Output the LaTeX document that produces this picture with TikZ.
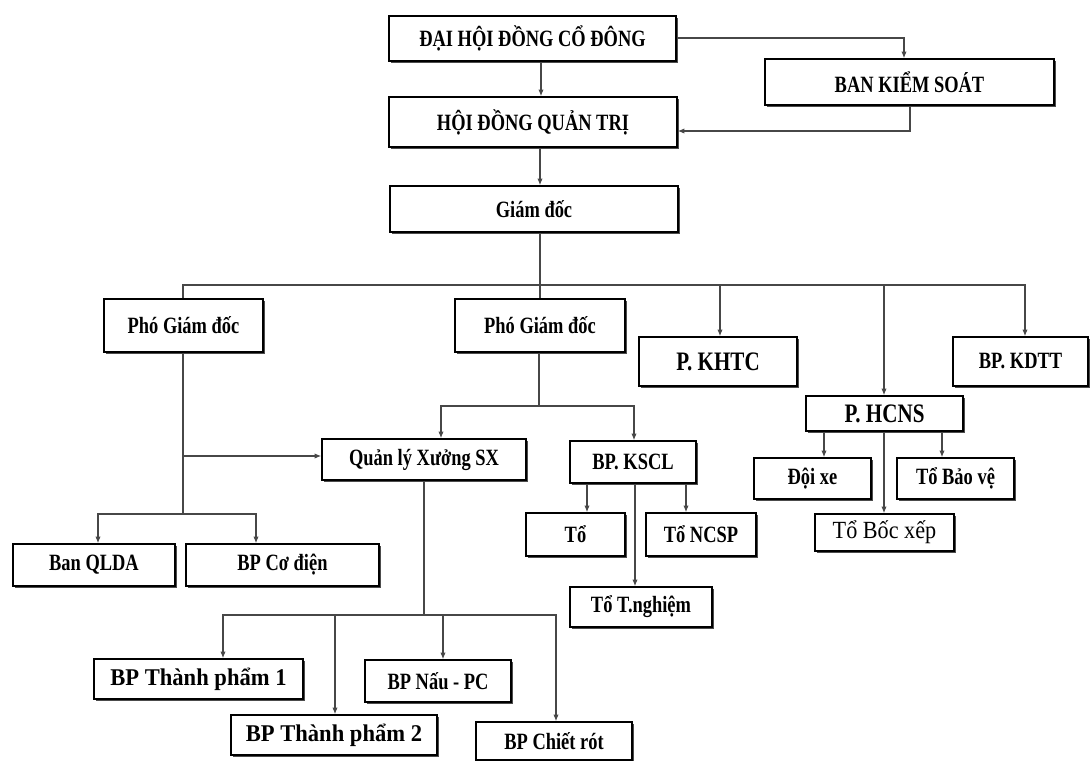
\documentclass[tikz,border=0pt]{standalone}
\usepackage{fontspec}
\setmainfont{Liberation Serif}
\newfontfamily\cnd[FakeStretch=0.79]{Liberation Serif}
\newfontfamily\wid[FakeStretch=0.94]{Liberation Serif}
\newfontfamily\rgl[FakeStretch=0.90]{Liberation Serif}
\usetikzlibrary{arrows.meta,shadows}
\tikzset{
  box/.style={draw=black, line width=1.1pt, fill=white, inner sep=0pt,
    font=\cnd\bfseries\fontsize{17.5}{19}\selectfont,
    drop shadow={shadow xshift=1.3pt, shadow yshift=-1.3pt, fill=black!70, opacity=1}},
  bigtxt/.style={font=\cnd\bfseries\fontsize{20}{22}\selectfont},
  widetxt/.style={font=\wid\bfseries\fontsize{18}{20}\selectfont},
  regtxt/.style={font=\rgl\fontsize{18.5}{20}\selectfont},
  ln/.style={draw=black!72, line width=0.9pt},
  ar/.style={ln, -{Latex[length=5pt,width=4pt]}},
}
\newcommand\bxnode[7][]{\node[box,minimum width={(#5-#3)*0.75pt},minimum height={(#6-#4)*0.75pt},#1] (#2) at ({(#3+#5)/2},{(#4+#6)/2}) {#7};}
\begin{document}
\begin{tikzpicture}[x=0.75pt,y=-0.75pt]
\useasboundingbox (0,0) rectangle (1090,761);
\fill[white] (0,0) rectangle (1090,761);
% boxes
\bxnode{dh}{389}{16}{676}{61}{ĐẠI HỘI ĐỒNG CỔ ĐÔNG}
\bxnode{bks}{765}{59}{1054}{105}{BAN KIỂM SOÁT}
\bxnode{hq}{389}{97}{677}{147}{HỘI ĐỒNG QUẢN TRỊ}
\bxnode{gd}{390}{186}{678}{232}{Giám đốc}
\bxnode{p1}{104}{299}{263}{352}{Phó Giám đốc}
\bxnode{p2}{455}{299}{625}{352}{Phó Giám đốc}
\bxnode[bigtxt]{kh}{639}{337}{797}{386}{P. KHTC}
\bxnode{kd}{953}{337}{1088}{386}{BP. KDTT}
\bxnode[bigtxt]{hc}{806}{396}{963}{431}{P. HCNS}
\bxnode{qx}{322}{439}{526}{480}{Quản lý Xưởng SX}
\bxnode{ks}{570}{441}{696}{483}{BP. KSCL}
\bxnode{dx}{754}{458}{871}{499}{Đội xe}
\bxnode{bv}{897}{458}{1014}{499}{Tổ Bảo vệ}
\bxnode[regtxt]{bcx}{815}{514}{954}{551}{Tổ Bốc xếp}
\bxnode{qa}{13}{544}{175}{586}{Ban QLDA}
\bxnode{cd}{186}{544}{379}{586}{BP Cơ điện}
\bxnode{t0}{526}{513}{625}{556}{Tổ}
\bxnode{nc}{646}{513}{756}{556}{Tổ NCSP}
\bxnode{tn}{570}{587}{712}{627}{Tổ T.nghiệm}
\bxnode[widetxt]{tp1}{94}{659}{303}{699}{BP Thành phẩm 1}
\bxnode[widetxt]{tp2}{231}{715}{437}{755}{BP Thành phẩm 2}
\bxnode{nau}{365}{660}{511}{702}{BP Nấu - PC}
\bxnode{cr}{476}{722}{632}{760}{BP Chiết rót}
% junctions
\coordinate (jgd) at (540,285);
\coordinate (jp1) at (183,514);
\coordinate (jqx) at (183,456);
\coordinate (jp2) at (539,406);
\coordinate (jsx) at (424,615);
% top connectors
\draw[ar] (541,0 |- dh.south) -- (541,0 |- hq.north);
\draw[ar] (dh.east |- 0,38) -| (904,0 |- bks.north);
\draw[ar] (910,0 |- bks.south) |- (hq.east |- 0,131);
\draw[ar] (540,0 |- hq.south) -- (540,0 |- gd.north);
\draw[ln] (540,0 |- gd.south) -- (jgd);
% main bus
\draw[ar] (183,0 |- p1.north) |- (1025,285) -- (1025,0 |- kd.north);
\draw[ln] (jgd) -- (540,0 |- p2.north);
\draw[ar] (720,285) -- (720,0 |- kh.north);
\draw[ar] (884,285) -- (884,0 |- hc.north);
% left vice director
\draw[ln] (183,0 |- p1.south) -- (jp1);
\draw[ar] (jp1) -| (98,0 |- qa.north);
\draw[ar] (jp1) -| (256,0 |- cd.north);
\draw[ar] (jqx) -- (qx.west |- jqx);
% right vice director
\draw[ln] (539,0 |- p2.south) -- (jp2);
\draw[ar] (jp2) -| (441,0 |- qx.north);
\draw[ar] (jp2) -| (634,0 |- ks.north);
% KSCL
\draw[ar] (587,0 |- ks.south) -- (587,0 |- t0.north);
\draw[ar] (686,0 |- ks.south) -- (686,0 |- nc.north);
\draw[ar] (635,0 |- ks.south) -- (635,0 |- tn.north);
% HCNS
\draw[ar] (824,0 |- hc.south) -- (824,0 |- dx.north);
\draw[ar] (942,0 |- hc.south) -- (942,0 |- bv.north);
\draw[ar] (884,0 |- hc.south) -- (884,0 |- bcx.north);
% workshop
\draw[ln] (qx.south) -- (jsx);
\draw[ar] (jsx) -| (223,0 |- tp1.north);
\draw[ar] (jsx) -| (335,0 |- tp2.north);
\draw[ar] (jsx) -| (443,0 |- nau.north);
\draw[ar] (jsx) -| (556,0 |- cr.north);
\end{tikzpicture}
\end{document}
